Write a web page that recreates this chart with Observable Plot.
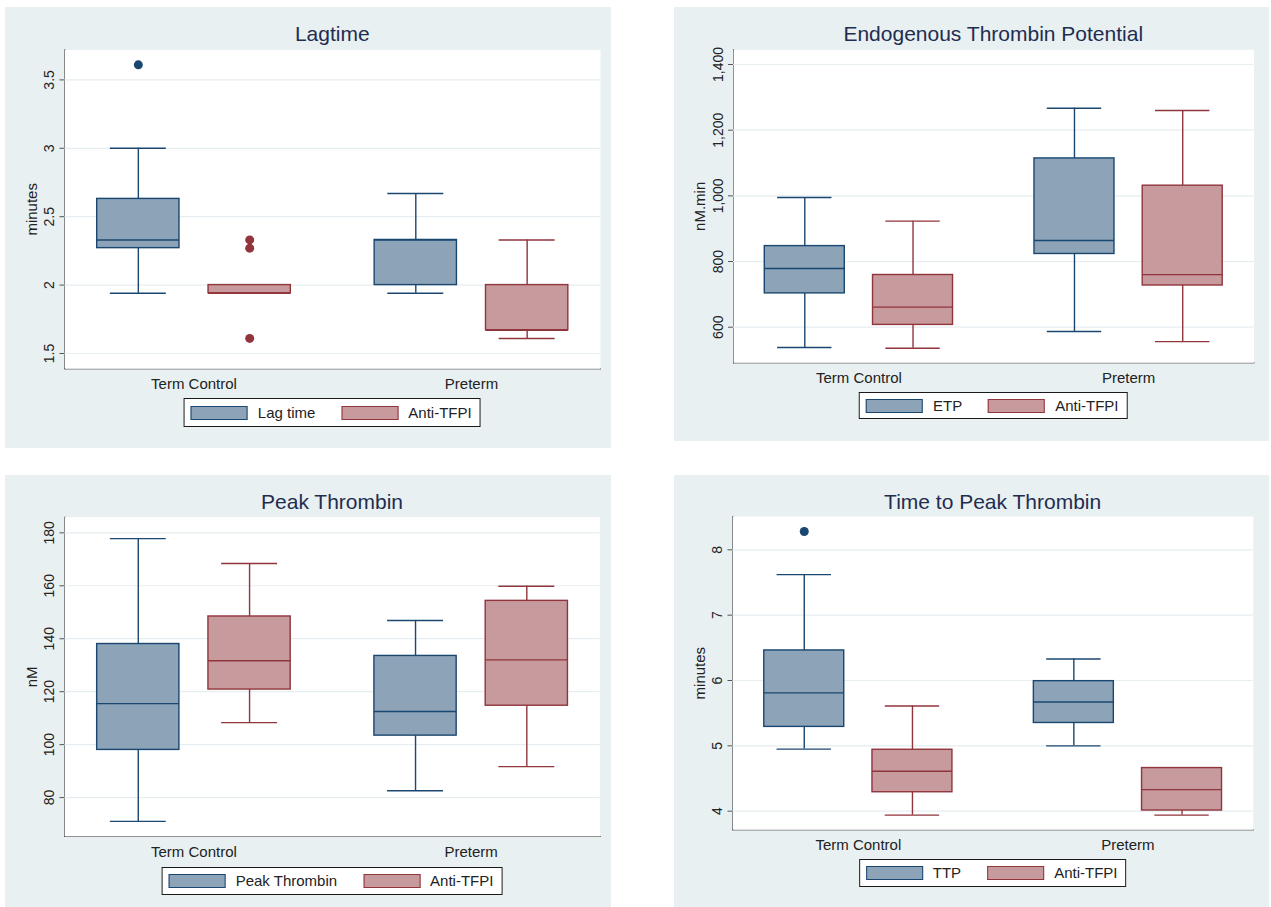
<!DOCTYPE html>
<html>
<head>
<meta charset="utf-8">
<script src="https://cdn.jsdelivr.net/npm/d3@7"></script>
<script src="https://cdn.jsdelivr.net/npm/@observablehq/plot@0.6"></script>
<style>
  html, body { margin: 0; padding: 0; background: #ffffff; }
  body { position: relative; width: 1271px; height: 907px; overflow: hidden;
         font-family: "Liberation Sans", Arial, Helvetica, sans-serif; }
  .panel { position: absolute; background: #e8f0f2; }
  .panel svg { position: absolute; left: 0; top: 0; max-width: none; }
  .title { position: absolute; transform: translate(-50%, -50%); font-size: 21px;
           color: #1f2d4f; white-space: nowrap; }
  .legend { position: absolute; transform: translateX(-50%); background: #ffffff;
            border: 1px solid #1a1a1a; display: flex; align-items: center;
            padding: 0 8px 0 6px; box-sizing: border-box; font-size: 15px;
            color: #222; white-space: nowrap; }
  .legend .key { width: 57px; height: 14px; box-sizing: border-box; border: 1.5px solid; margin-right: 10px; }
  .legend .item { display: flex; align-items: center; }
  .legend .item + .item { margin-left: 26px; }
</style>
</head>
<body>
<script>
// Groups on the x axis
const groups = ["Term Control", "Preterm"];

// Each box: [lower whisker, Q1, median, Q3, upper whisker], one per group

// Lagtime (minutes)
const lagTimeBoxes = [[1.94, 2.27, 2.33, 2.63, 3.00], [1.94, 2.00, 2.33, 2.33, 2.67]];
const lagAntiBoxes = [[1.94, 1.94, 1.94, 2.00, 2.00], [1.61, 1.67, 1.67, 2.00, 2.33]];
const lagTimeOutliers = [[3.61], []];
const lagAntiOutliers = [[2.33, 2.27, 1.61], []];
const lagTicks = [1.5, 2, 2.5, 3, 3.5];

// Endogenous Thrombin Potential (nM.min)
const etpBoxes = [[538, 703, 779, 847, 995], [587, 823, 864, 1114, 1267]];
const etpAntiBoxes = [[536, 607, 661, 759, 923], [556, 727, 760, 1031, 1260]];
const etpTicks = [600, 800, 1000, 1200, 1400];

// Peak Thrombin (nM)
const peakBoxes = [[71.0, 98.0, 115.5, 138.0, 177.8], [82.6, 103.4, 112.5, 133.5, 146.9]];
const peakAntiBoxes = [[108.3, 120.8, 131.7, 148.4, 168.4], [91.7, 114.7, 132.0, 154.3, 159.8]];
const peakTicks = [80, 100, 120, 140, 160, 180];

// Time to Peak Thrombin (minutes)
const ttpBoxes = [[4.95, 5.29, 5.81, 6.46, 7.62], [5.00, 5.35, 5.67, 5.99, 6.33]];
const ttpAntiBoxes = [[3.94, 4.29, 4.61, 4.94, 5.61], [3.94, 4.01, 4.33, 4.66, 4.66]];
const ttpOutliers = [[8.28], []];
const ttpTicks = [4, 5, 6, 7, 8];

// Colours
const navy = "#1a476f", navyFill = "#8ca3b8";
const maroon = "#90353b", maroonFill = "#c79a9d";
const gridColor = "#e6eef1";
const axisGray = "#555555";
const fontFamily = "'Liberation Sans', Arial, Helvetica, sans-serif";

const toRows = (boxes) => boxes.map(([low, q1, median, q3, high], i) =>
  ({group: groups[i], low, q1, median, q3, high}));
const toPoints = (outliers) => outliers.flatMap((vals, i) => vals.map((value) => ({group: groups[i], value})));

function drawPanel(cfg) {
  const panel = document.createElement("div");
  panel.className = "panel";
  Object.assign(panel.style, {left: cfg.left + "px", top: cfg.top + "px", width: cfg.width + "px", height: cfg.height + "px"});
  document.body.appendChild(panel);

  const {marginLeft, marginRight, marginTop, marginBottom} = cfg.margins;
  const paddingInner = 0.302, paddingOuter = 0.116;
  const band = d3.scaleBand().domain(groups)
    .range([marginLeft, cfg.width - marginRight])
    .paddingInner(paddingInner).paddingOuter(paddingOuter);
  const bw = band.bandwidth();
  const boxW = bw * 0.425;           // width of one box
  const gap = bw - boxW;             // room left for the neighbouring box
  const capW = boxW * 0.68;          // whisker cap width
  const capInset = (boxW - capW) / 2;

  const marks = [
    Plot.frame({fill: "white", stroke: "none"}),
    Plot.ruleY(cfg.ticks, {stroke: gridColor, strokeWidth: 1.2})
  ];

  cfg.series.forEach((s, side) => {
    const rows = toRows(s.boxes);
    const dx = side === 0 ? -gap / 2 : gap / 2;
    const boxInset = side === 0 ? {insetLeft: 0, insetRight: gap} : {insetLeft: gap, insetRight: 0};
    const capInsets = side === 0
      ? {insetLeft: capInset, insetRight: gap + capInset}
      : {insetLeft: gap + capInset, insetRight: capInset};
    const line = {stroke: s.stroke, strokeWidth: 1.4};
    marks.push(
      Plot.ruleX(rows, {x: "group", y1: "q3", y2: "high", dx, ...line}),
      Plot.ruleX(rows, {x: "group", y1: "low", y2: "q1", dx, ...line}),
      Plot.tickY(rows, {x: "group", y: "high", ...capInsets, ...line}),
      Plot.tickY(rows, {x: "group", y: "low", ...capInsets, ...line}),
      Plot.barY(rows, {x: "group", y1: "q1", y2: "q3", fill: s.fill, ...boxInset, ...line}),
      Plot.tickY(rows, {x: "group", y: "median", ...boxInset, ...line})
    );
    if (s.outliers) {
      marks.push(Plot.dot(toPoints(s.outliers), {x: "group", y: "value", dx, r: 4.5, fill: s.stroke, stroke: "none"}));
    }
  });

  const svg = Plot.plot({
    width: cfg.width,
    height: cfg.height,
    marginLeft, marginRight, marginTop, marginBottom,
    style: {background: "transparent", fontFamily, fontSize: "14px", color: "#222", overflow: "visible"},
    x: {domain: groups, paddingInner, paddingOuter, round: false, axis: "bottom",
        tickSize: 0, tickPadding: 10, label: null, line: true},
    y: {domain: cfg.domain, ticks: cfg.ticks, tickFormat: cfg.tickFormat, tickRotate: -90,
        tickSize: 5, tickPadding: 6, label: cfg.yLabel, labelArrow: false,
        labelAnchor: "center", labelOffset: 39, line: true},
    marks
  });
  // group labels and the y title are a little larger than the tick values
  svg.querySelectorAll("text").forEach((t) => {
    if (groups.includes(t.textContent) || t.textContent === cfg.yLabel) t.setAttribute("font-size", "15px");
  });
  // the left axis line and its ticks are drawn in gray
  svg.querySelectorAll('g[aria-label="y-axis tick"], g[aria-label="frame"]').forEach((g) => {
    if (g.getAttribute("aria-label") === "y-axis tick" || g.querySelector("line[x1][x2]") && g.querySelector("line").getAttribute("x1") === g.querySelector("line").getAttribute("x2")) {
      g.setAttribute("stroke", axisGray);
    }
  });
  panel.appendChild(svg);

  const plotCenter = marginLeft + (cfg.width - marginLeft - marginRight) / 2;
  const title = document.createElement("div");
  title.className = "title";
  title.textContent = cfg.title;
  Object.assign(title.style, {left: plotCenter + "px", top: cfg.titleY + "px"});
  panel.appendChild(title);

  const legend = document.createElement("div");
  legend.className = "legend";
  Object.assign(legend.style, {left: plotCenter + "px", top: cfg.legendTop + "px", height: cfg.legendHeight + "px"});
  cfg.series.forEach((s) => {
    const item = document.createElement("div");
    item.className = "item";
    const key = document.createElement("div");
    key.className = "key";
    Object.assign(key.style, {background: s.fill, borderColor: s.stroke});
    const label = document.createElement("span");
    label.textContent = s.name;
    item.append(key, label);
    legend.appendChild(item);
  });
  panel.appendChild(legend);
}

drawPanel({
  title: "Lagtime", yLabel: "minutes",
  left: 5, top: 7, width: 606, height: 441,
  margins: {marginLeft: 59.5, marginRight: 11, marginTop: 42.3, marginBottom: 79.7},
  domain: [1.388, 3.72], ticks: lagTicks, tickFormat: (d) => String(d),
  titleY: 27.3, legendTop: 391, legendHeight: 29,
  series: [
    {name: "Lag time", boxes: lagTimeBoxes, outliers: lagTimeOutliers, stroke: navy, fill: navyFill},
    {name: "Anti-TFPI", boxes: lagAntiBoxes, outliers: lagAntiOutliers, stroke: maroon, fill: maroonFill}
  ]
});

drawPanel({
  title: "Endogenous Thrombin Potential", yLabel: "nM.min",
  left: 674, top: 7, width: 595, height: 434,
  margins: {marginLeft: 59, marginRight: 15.5, marginTop: 42.3, marginBottom: 78.7},
  domain: [491.6, 1444.8], ticks: etpTicks, tickFormat: d3.format(","),
  titleY: 27.3, legendTop: 385.3, legendHeight: 27,
  series: [
    {name: "ETP", boxes: etpBoxes, stroke: navy, fill: navyFill},
    {name: "Anti-TFPI", boxes: etpAntiBoxes, stroke: maroon, fill: maroonFill}
  ]
});

drawPanel({
  title: "Peak Thrombin", yLabel: "nM",
  left: 5, top: 475, width: 606, height: 432,
  margins: {marginLeft: 59.5, marginRight: 11.4, marginTop: 41.7, marginBottom: 71},
  domain: [65.3, 185.9], ticks: peakTicks, tickFormat: (d) => String(d),
  titleY: 27.3, legendTop: 391.7, legendHeight: 28,
  series: [
    {name: "Peak Thrombin", boxes: peakBoxes, stroke: navy, fill: navyFill},
    {name: "Anti-TFPI", boxes: peakAntiBoxes, stroke: maroon, fill: maroonFill}
  ]
});

drawPanel({
  title: "Time to Peak Thrombin", yLabel: "minutes",
  left: 674, top: 475, width: 595, height: 432,
  margins: {marginLeft: 58.5, marginRight: 16.2, marginTop: 41, marginBottom: 77.7},
  domain: [3.715, 8.51], ticks: ttpTicks, tickFormat: (d) => String(d),
  titleY: 26.7, legendTop: 384.3, legendHeight: 27.4,
  series: [
    {name: "TTP", boxes: ttpBoxes, outliers: ttpOutliers, stroke: navy, fill: navyFill},
    {name: "Anti-TFPI", boxes: ttpAntiBoxes, stroke: maroon, fill: maroonFill}
  ]
});
</script>
</body>
</html>
